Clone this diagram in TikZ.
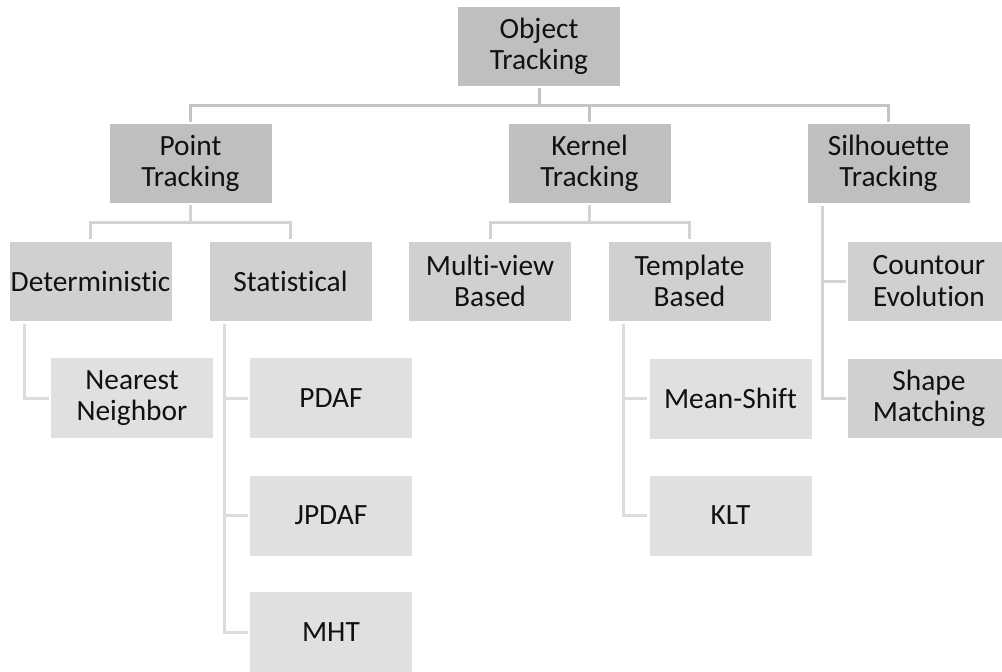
\documentclass[tikz,border=0pt]{standalone}
\usepackage{fontspec}
\setmainfont{Carlito}[Ligatures={NoCommon,NoRare}]
\definecolor{lvA}{HTML}{BFBFBF}
\definecolor{lvB}{HTML}{D0D0D0}
\definecolor{lvC}{HTML}{E0E0E0}
\definecolor{lnA}{HTML}{C4C4C4}
\definecolor{lnB}{HTML}{D4D4D4}
\definecolor{lnC}{HTML}{DCDCDC}
\definecolor{txt}{HTML}{111111}
\begin{document}
\begin{tikzpicture}[x=0.5pt,y=-0.5pt,
  box/.style={inner sep=0pt, minimum width=81pt, text=txt,
    align=center, font=\fontsize{14.7pt}{15.6pt}\selectfont},
  topbox/.style={box, fill=lvA, minimum height=39.5pt},
  midbox/.style={box, fill=lvB, minimum height=39.5pt},
  leafbox/.style={box, fill=lvC, minimum height=40pt},
  conn/.style={line width=1.5pt, shorten <=1pt, shorten >=1pt},
  cA/.style={conn, draw=lnA},
  cB/.style={conn, draw=lnB},
  cC/.style={conn, draw=lnC}]
\useasboundingbox (0,0) rectangle (1002,671);

% root and first level
\node[topbox] (obj) at (539,46.5) {Object\\Tracking};
\node[topbox] (pt)  at (190.5,163.5) {Point\\Tracking};
\node[topbox] (ker) at (589.5,163.5) {Kernel\\Tracking};
\node[topbox] (sil) at (888.5,163.5) {Silhouette\\Tracking};

% second level
\node[midbox] (det) at (90.5,281) {Deterministic};
\node[midbox] (sta) at (290.5,281) {Statistical};
\node[midbox] (mvb) at (490,281) {Multi-view\\Based};
\node[midbox] (tpb) at (689.5,281) {Template\\Based};
\node[midbox] (cev) at (929,281) {Countour\\Evolution};
\node[midbox] (shm) at (929,398.5) {Shape\\Matching};

% leaves
\node[leafbox] (nn)   at (132,398) {Nearest\\Neighbor};
\node[leafbox] (pdaf) at (331,398) {PDAF};
\node[leafbox] (jpd)  at (331,515.5) {JPDAF};
\node[leafbox] (mht)  at (331,632) {MHT};
\node[leafbox] (ms)   at (730.5,398.5) {Mean-Shift};
\node[leafbox] (klt)  at (730.5,515.5) {KLT};

% junction points of the bus lines
\coordinate (j0) at (539,105);
\coordinate (j1) at (190.5,222);
\coordinate (j2) at (589.5,222.5);

% root to first level
\draw[cA, shorten >=0pt] (obj.south) -- (j0);
\draw[cA] (pt.north) |- (j0) -| (sil.north);
\draw[cA, shorten <=0pt] (ker.north |- j0) -- (ker.north);

% point tracking
\draw[cB, shorten >=0pt] (pt.south) -- (j1);
\draw[cB] (det.north) |- (j1) -| (sta.north);

% kernel tracking
\draw[cB, shorten >=0pt] (ker.south) -- (j2);
\draw[cB] (mvb.north) |- (j2) -| (tpb.north);

% silhouette tracking
\draw[cB, shorten <=1.5pt] ([xshift=-33pt]sil.south) |- (shm.west);
\draw[cB, shorten <=0pt] ([xshift=-33pt]sil.south |- cev.west) -- (cev.west);

% deterministic
\draw[cC, shorten <=1.5pt] ([xshift=-33pt]det.south) |- (nn.west);

% statistical
\draw[cC, shorten <=1.5pt] ([xshift=-33pt]sta.south) |- (mht.west);
\draw[cC, shorten <=0pt] ([xshift=-33pt]sta.south |- pdaf.west) -- (pdaf.west);
\draw[cC, shorten <=0pt] ([xshift=-33pt]sta.south |- jpd.west) -- (jpd.west);

% template based
\draw[cC, shorten <=1.5pt] ([xshift=-33pt]tpb.south) |- (klt.west);
\draw[cC, shorten <=0pt] ([xshift=-33pt]tpb.south |- ms.west) -- (ms.west);
\end{tikzpicture}
\end{document}
